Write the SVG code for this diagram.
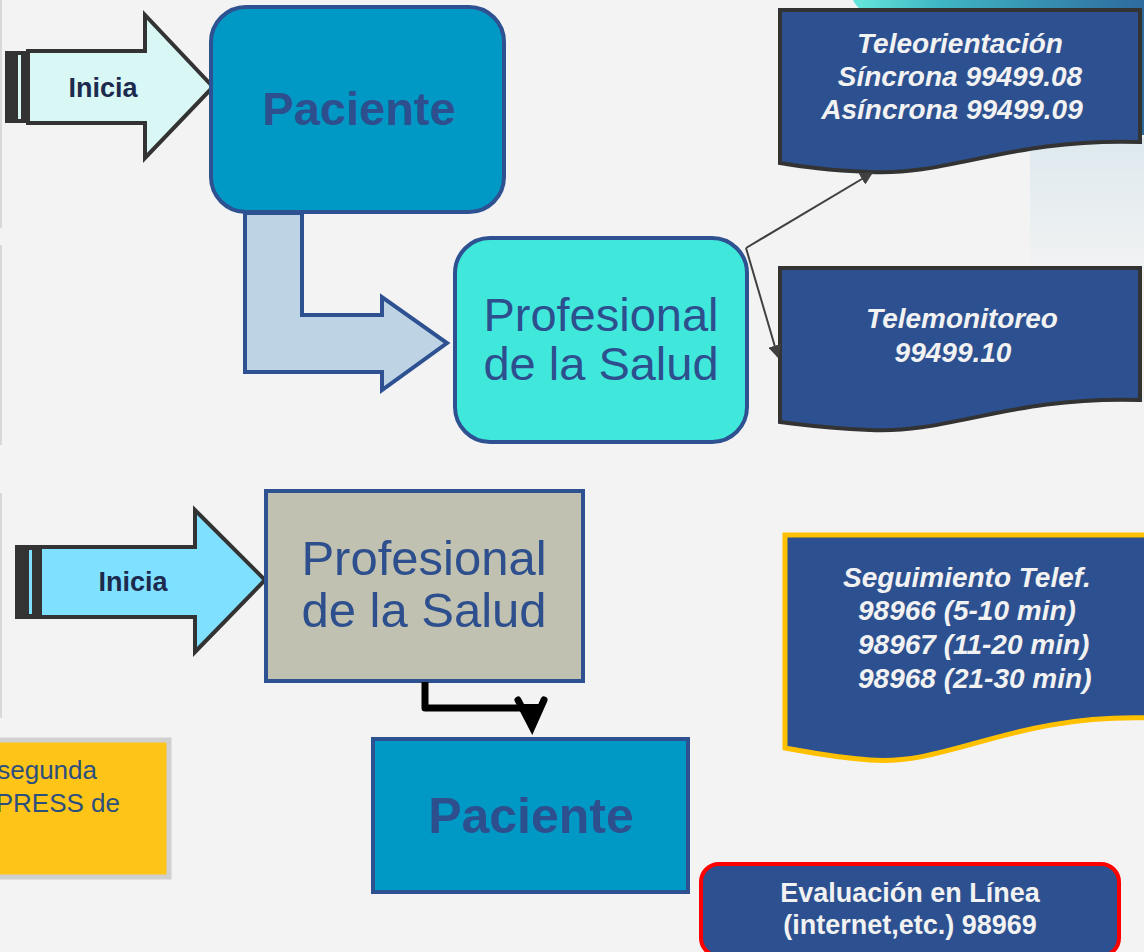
<svg xmlns="http://www.w3.org/2000/svg" width="1144" height="952" viewBox="0 0 1144 952">
<style>
.bg{fill:#f3f3f3}
.edge{fill:#d9d9d9}
.node-lbl{font-family:"Liberation Sans",Arial,sans-serif;fill:#2d4f8e;text-anchor:middle}
.bold{font-weight:bold}
.doc-txt{font-family:"Liberation Sans",Arial,sans-serif;font-weight:bold;font-style:italic;font-size:28px;fill:#f2f2f2}
.inicia{font-family:"Liberation Sans",Arial,sans-serif;font-weight:bold;font-size:27px;fill:#1c2a4e;text-anchor:middle}
.doc{fill:#2d5190}
.thin{fill:none;stroke:#404040;stroke-width:2}
.eval{font-family:"Liberation Sans",Arial,sans-serif;font-weight:bold;font-size:27px;fill:#f2f2f2;text-anchor:middle}
.note{font-family:"Liberation Sans",Arial,sans-serif;font-size:26px;fill:#2d4f7e;text-anchor:end}
</style>
<defs>
<linearGradient id="teal" x1="0" y1="0" x2="1" y2="0">
<stop offset="0" stop-color="#66e6da"/><stop offset="0.3" stop-color="#3fb6c4"/><stop offset="1" stop-color="#2e6a9e"/>
</linearGradient>
<linearGradient id="pale" x1="0" y1="0" x2="0" y2="1">
<stop offset="0" stop-color="#dde9ee"/><stop offset="1" stop-color="#f3f3f3"/>
</linearGradient>
<marker id="ah" viewBox="0 0 10 10" refX="9" refY="5" markerWidth="13" markerHeight="13" markerUnits="userSpaceOnUse" orient="auto">
<path d="M0,0 L10,5 L0,10 Z" fill="#404040"/>
</marker>
</defs>
<rect class="bg" x="0" y="0" width="1144" height="952"/>
<!-- background decoration -->
<path d="M853,0 Q858,12 875,14 L1144,14 L1144,135 L1144,0 Z" fill="url(#teal)"/>
<rect x="1100" y="10" width="44" height="125" fill="#2e6a9e"/>
<rect x="1030" y="138" width="114" height="140" fill="url(#pale)"/>
<rect class="edge" x="0" y="0" width="2" height="228"/>
<rect class="edge" x="0" y="245" width="2" height="200"/>
<rect class="edge" x="0" y="493" width="2" height="225"/>

<g id="inicia-top">
<path d="M28,51 L145,51 L145,15 L213,87 L145,158 L145,123 L28,123 Z" fill="#d9f8f5" stroke="#333" stroke-width="4" stroke-linejoin="miter"/>
<rect x="5" y="51" width="23" height="72" fill="#333"/>
<rect x="18" y="55" width="3" height="64" fill="#d9f8f5"/>
<text class="inicia" x="103" y="97">Inicia</text>
</g>

<g id="paciente-top">
<rect x="211" y="7" width="293" height="205" rx="35" fill="#0099c6" stroke="#2d5191" stroke-width="4"/>
<text class="node-lbl bold" x="359" y="125" font-size="47">Paciente</text>
</g>

<g id="flecha-L">
<path d="M245,213 L302,213 L302,315 L382,315 L382,297 L447,343 L382,390 L382,372 L245,372 Z" fill="#bed4e4" stroke="#2d5191" stroke-width="4"/>
</g>

<g id="profesional-top">
<rect x="455" y="238" width="292" height="204" rx="35" fill="#40e8dc" stroke="#2d5191" stroke-width="4"/>
<text class="node-lbl" x="601" y="331" font-size="47">Profesional</text>
<text class="node-lbl" x="601" y="380" font-size="47">de la Salud</text>
</g>

<g id="teleorientacion">
<path class="doc" d="M780,10 L1140,10 L1140,142 C1010,138 950,176 870,172 C825,170 805,167 780,163 Z" stroke="#333" stroke-width="4"/>
<text class="doc-txt" x="960" y="53" text-anchor="middle">Teleorientación</text>
<text class="doc-txt" x="960" y="86" text-anchor="middle">Síncrona 99499.08</text>
<text class="doc-txt" x="952" y="119" text-anchor="middle">Asíncrona 99499.09</text>
</g>

<g id="telemonitoreo">
<path class="doc" d="M780,268 L1140,268 L1140,400 C1010,396 950,434 870,430 C825,428 805,425 780,422 Z" stroke="#333" stroke-width="4"/>
<text class="doc-txt" x="962" y="328" text-anchor="middle">Telemonitoreo</text>
<text class="doc-txt" x="953" y="362" text-anchor="middle">99499.10</text>
</g>

<g id="inicia-bottom">
<path d="M40,547 L195,547 L195,510 L265,580 L195,652 L195,617 L40,617 Z" fill="#80e0ff" stroke="#333" stroke-width="4"/>
<rect x="15" y="545" width="25" height="74" fill="#333"/>
<rect x="29" y="550" width="3" height="64" fill="#80e0ff"/>
<text class="inicia" x="133" y="591">Inicia</text>
</g>

<g id="profesional-bottom">
<rect x="266" y="491" width="317" height="190" fill="#c0c1b0" stroke="#2d5191" stroke-width="4"/>
<text class="node-lbl" x="424" y="575" font-size="49">Profesional</text>
<text class="node-lbl" x="424" y="627" font-size="49">de la Salud</text>
</g>

<g id="paciente-bottom">
<rect x="373" y="739" width="315" height="153" fill="#0099c6" stroke="#2d5191" stroke-width="4"/>
<text class="node-lbl bold" x="531" y="833" font-size="50">Paciente</text>
</g>

<g id="nota-amarilla">
<rect x="-10" y="740" width="179" height="137" fill="#ffc418" stroke="#d0d0d0" stroke-width="5"/>
<text class="note" x="97" y="779">segunda</text>
<text class="note" x="120" y="812">PRESS de</text>
</g>

<g id="seguimiento">
<path class="doc" d="M785,535 L1150,535 L1150,718 C1010,714 950,766 870,760 C830,757 808,752 785,748 Z" stroke="#ffc000" stroke-width="5"/>
<text class="doc-txt" x="843" y="587">Seguimiento Telef.</text>
<text class="doc-txt" x="858" y="620">98966 (5-10 min)</text>
<text class="doc-txt" x="858" y="654">98967 (11-20 min)</text>
<text class="doc-txt" x="858" y="688">98968 (21-30 min)</text>
</g>

<g id="evaluacion">
<rect x="701" y="864" width="418" height="92" rx="18" fill="#2d5190" stroke="#ff0000" stroke-width="4"/>
<text class="eval" x="910" y="902">Evaluación en Línea</text>
<text class="eval" x="910" y="934">(internet,etc.) 98969</text>
</g>

<g id="connectors">
<line class="thin" x1="746" y1="248" x2="872" y2="173" marker-end="url(#ah)"/>
<line class="thin" x1="746" y1="248" x2="778" y2="357" marker-end="url(#ah)"/>
<path d="M425,682 L425,708 L530,708" fill="none" stroke="#000" stroke-width="7" stroke-linejoin="round"/>
<path d="M518,700 L532,727 L544,700" fill="none" stroke="#000" stroke-width="7" stroke-linecap="round" stroke-linejoin="miter"/>
<polygon points="522,704 532,730 541,704" fill="#000"/>
</g>
</svg>
